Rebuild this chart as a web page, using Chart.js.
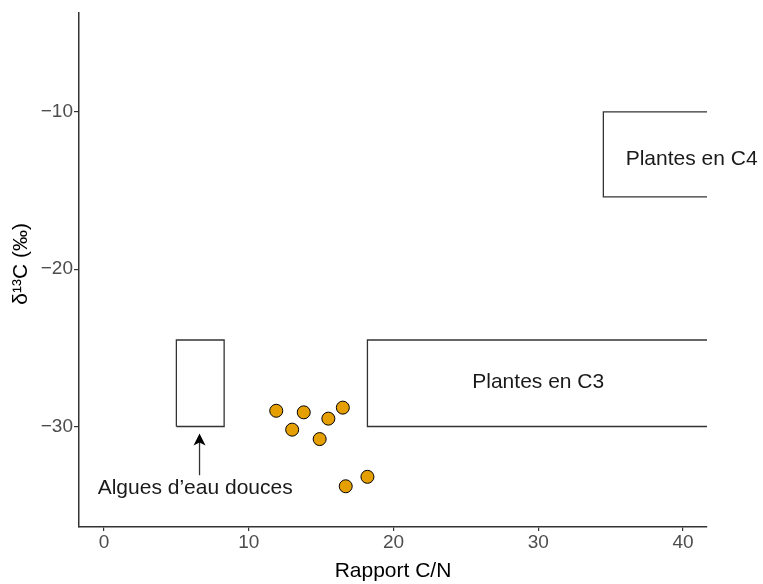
<!DOCTYPE html>
<html>
<head>
<meta charset="utf-8">
<script src="https://cdn.jsdelivr.net/npm/chart.js@4"></script>
<style>
  html, body { margin: 0; padding: 0; background: #fff; }
  #wrap { width: 763px; height: 584px; }
</style>
</head>
<body>
<div id="wrap"><canvas id="chart"></canvas></div>
<script>
// C/N ratio vs d13C samples
const cnRatio = [11.9, 13.0, 13.8, 14.9, 15.5, 16.5, 16.7, 18.2];
const d13C    = [-29.0, -30.2, -29.1, -30.8, -29.5, -28.8, -33.8, -33.2];

// reference boxes (x = C/N, y = d13C)
const algaeBoxX = [5, 5, 8.3, 8.3, 5];
const algaeBoxY = [-30, -24.5, -24.5, -30, -30];
const c3BoxX = [45, 18.2, 18.2, 45];
const c3BoxY = [-24.5, -24.5, -30, -30];
const c4BoxX = [45, 34.5, 34.5, 45];
const c4BoxY = [-10, -10, -15.4, -15.4];

// annotations
const labelText = ['Plantes en C4', 'Plantes en C3', 'Algues d\u2019eau douces'];
const labelX = [40.6, 30, 6.3];
const labelY = [-13, -27.2, -33.9];
const arrowX = [6.6, 6.6];
const arrowY = [-33.1, -30.45];

const xTicks = [0, 10, 20, 30, 40];
const yTicks = [-30, -20, -10];

const FONT = '"Liberation Sans", Arial, sans-serif';
const AXIS = '#333333';

function pts(xs, ys) {
  return xs.map((x, i) => ({ x, y: ys[i] }));
}

function boxDataset(xs, ys) {
  return {
    type: 'line',
    data: pts(xs, ys),
    borderColor: AXIS,
    borderWidth: 1.3,
    pointRadius: 0,
    fill: false,
    tension: 0,
    order: 2
  };
}

const annotate = {
  id: 'annotate',
  afterDatasetsDraw(chart) {
    const { ctx, scales: { x, y } } = chart;
    ctx.save();
    ctx.fillStyle = '#1a1a1a';
    ctx.font = '21px ' + FONT;
    ctx.textAlign = 'center';
    ctx.textBaseline = 'middle';
    labelText.forEach((t, i) => {
      ctx.fillText(t, x.getPixelForValue(labelX[i]), y.getPixelForValue(labelY[i]));
    });

    // arrow
    const x0 = x.getPixelForValue(arrowX[0]), y0 = y.getPixelForValue(arrowY[0]);
    const x1 = x.getPixelForValue(arrowX[1]), y1 = y.getPixelForValue(arrowY[1]);
    ctx.strokeStyle = AXIS;
    ctx.lineWidth = 1.3;
    ctx.beginPath();
    ctx.moveTo(x0, y0);
    ctx.lineTo(x1, y1 + 8);
    ctx.stroke();
    ctx.fillStyle = '#000';
    ctx.beginPath();
    ctx.moveTo(x1, y1);
    ctx.lineTo(x1 - 6, y1 + 12);
    ctx.lineTo(x1, y1 + 9);
    ctx.lineTo(x1 + 6, y1 + 12);
    ctx.closePath();
    ctx.fill();
    ctx.restore();
  }
};

new Chart(document.getElementById('chart'), {
  type: 'scatter',
  data: {
    datasets: [
      {
        data: pts(cnRatio, d13C),
        backgroundColor: '#E69F00',
        borderColor: '#000',
        borderWidth: 1,
        pointRadius: 6.5,
        order: 1
      },
      boxDataset(algaeBoxX, algaeBoxY),
      boxDataset(c3BoxX, c3BoxY),
      boxDataset(c4BoxX, c4BoxY)
    ]
  },
  options: {
    responsive: true,
    maintainAspectRatio: false,
    animation: false,
    layout: { padding: { top: 10, right: 56, bottom: 0, left: 0 } },
    plugins: {
      legend: { display: false },
      tooltip: { enabled: false }
    },
    scales: {
      x: {
        type: 'linear',
        min: -1.727,
        max: 41.66,
        afterBuildTicks: s => { s.ticks = xTicks.map(v => ({ value: v })); },
        afterFit: s => { s.height = 57; },
        ticks: { color: '#4d4d4d', font: { family: FONT, size: 19 }, padding: 0 },
        grid: { drawOnChartArea: false, drawTicks: true, tickLength: 4, color: AXIS, lineWidth: 1.2 },
        border: { display: true, color: AXIS, width: 1.5 },
        title: {
          display: true,
          text: 'Rapport C/N',
          color: '#000',
          font: { family: FONT, size: 21 },
          padding: { top: 0, bottom: 0 }
        }
      },
      y: {
        type: 'linear',
        min: -36.39,
        max: -3.67,
        afterBuildTicks: s => { s.ticks = yTicks.map(v => ({ value: v })); },
        afterFit: s => { s.width = 79; },
        ticks: {
          color: '#4d4d4d',
          font: { family: FONT, size: 19 },
          padding: 1,
          callback: v => String(v).replace('-', '\u2212')
        },
        grid: { drawOnChartArea: false, drawTicks: true, tickLength: 5, color: AXIS, lineWidth: 1.2 },
        border: { display: true, color: AXIS, width: 1.5 },
        title: {
          display: true,
          text: '  \u03b4\u00b9\u00b3C (\u2030)',
          color: '#000',
          font: { family: FONT, size: 21 },
          padding: { top: 9, bottom: 0 }
        }
      }
    }
  },
  plugins: [annotate]
});
</script>
</body>
</html>
